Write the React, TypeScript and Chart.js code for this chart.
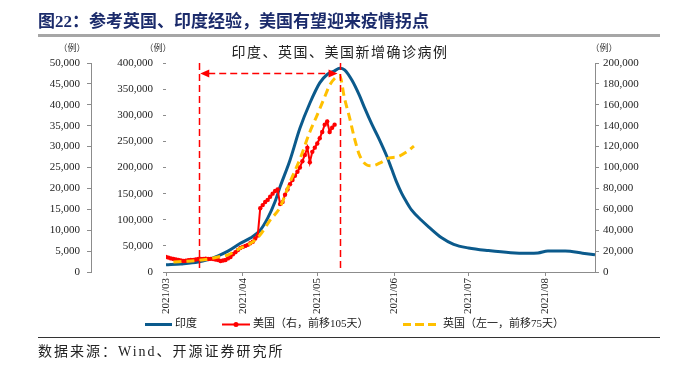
import React, { useEffect, useRef } from 'react';
import { Chart, registerables } from 'chart.js';

Chart.register(...registerables);

// ---- Data (x = days since 2021-03-01) ----
const monthTickDays = [0, 31, 61, 92, 122, 153];
const monthTickLabels = ['2021/03', '2021/04', '2021/05', '2021/06', '2021/07', '2021/08'];
const xMaxDay = 173;

// India daily new cases (left inner axis, 0-400,000)
const indiaDays = [0, 6, 13, 17, 21, 25, 30, 34, 38, 41, 44, 46, 50, 54, 58, 62, 65, 68, 70, 72, 75, 78, 80, 83, 86, 89, 91, 93, 95, 97, 99, 103, 106, 111, 116, 122, 130, 139, 146, 150, 154, 161, 168, 173];
const indiaCases = [14000, 15500, 19000, 24000, 31000, 40000, 55000, 65000, 80000, 103000, 135000, 163000, 214000, 275000, 323000, 362000, 378000, 385000, 390000, 387000, 367000, 338000, 315000, 283000, 254000, 222000, 197000, 172000, 151000, 134000, 119000, 99000, 86000, 66000, 53000, 46000, 41000, 37000, 36000, 36500, 40000, 40000, 36000, 33000];

// US daily new cases, shifted forward 105 days (right axis, 0-200,000)
const usDays = Array.from({ length: 69 }, (_, i) => i);
const usCases = [14400, 13800, 13000, 12400, 12000, 11500, 11000, 10500, 10800, 11200, 11500, 11500, 12000, 12400, 12600, 12400, 12800, 12400, 12600, 12400, 12000, 11500, 10500, 11000, 11500, 13000, 14400, 17000, 19000, 21000, 23000, 24000, 25000, 26000, 27500, 29000, 32000, 35000, 61000, 64000, 67000, 69000, 72000, 75000, 77500, 79000, 65000, 67000, 74000, 79000, 84000, 88000, 92000, 96000, 100000, 106000, 112000, 119000, 105000, 115000, 119000, 123000, 128000, 134000, 141000, 144000, 134000, 138000, 141000];

// UK daily new cases, shifted forward 75 days (left outer axis, 0-50,000)
const ukDays = [3, 9, 13, 17, 21, 25, 30, 35, 38, 42, 46, 50, 54, 58, 61, 64, 66, 68, 70, 72, 74, 76, 78, 81, 83, 87, 90, 93, 97, 100];
const ukCases = [2400, 2600, 2800, 3100, 3600, 4100, 5700, 7200, 8900, 12400, 15500, 21500, 27000, 33500, 37600, 41900, 44700, 46300, 47000, 41500, 37000, 32000, 28000, 25600, 25400, 26300, 27300, 27500, 28700, 30100];

// Annotation: India peak vs. start (days) and arrow level on India axis
const markerDays = [13.4, 70];
const arrowLevel = 381000;

const seriesNames = ['印度', '美国（右，前移105天）', '英国（左一，前移75天）'];
const chartTitle = '印度、英国、美国新增确诊病例';
const unitLabel = '（例）';

const BLUE = '#0b5a8c';
const RED = '#ff0000';
const YELLOW = '#ffc000';
const AXIS = '#8c8c8c';
const SERIF = "'Liberation Serif', 'Times New Roman', 'Noto Sans CJK SC', serif";
const MIXED = "'Liberation Serif', 'Noto Sans CJK SC', serif";

const fmt = (v: any) => Number(v).toLocaleString('en-US');

const overlayPlugin = {
  id: 'overlay',
  afterDatasetsDraw(chart: any) {
    const { ctx, chartArea, scales } = chart;
    const xs = scales.x;
    const yIN = scales.yIN;
    ctx.save();
    ctx.strokeStyle = RED;
    ctx.lineWidth = 1.5;
    ctx.setLineDash([7, 4]);
    markerDays.forEach((d) => {
      const px = Math.round(xs.getPixelForValue(d)) + 0.5;
      ctx.beginPath();
      ctx.moveTo(px, chartArea.top);
      ctx.lineTo(px, chartArea.bottom - 2);
      ctx.stroke();
    });
    const y = Math.round(yIN.getPixelForValue(arrowLevel)) + 0.5;
    const x1 = xs.getPixelForValue(markerDays[0]) + 1;
    const x2 = xs.getPixelForValue(markerDays[1]) - 2;
    ctx.beginPath();
    ctx.moveTo(x1 + 8, y);
    ctx.lineTo(x2 - 8, y);
    ctx.stroke();
    ctx.setLineDash([]);
    ctx.fillStyle = RED;
    ctx.beginPath();
    ctx.moveTo(x1, y);
    ctx.lineTo(x1 + 9, y - 4);
    ctx.lineTo(x1 + 9, y + 4);
    ctx.closePath();
    ctx.fill();
    ctx.beginPath();
    ctx.moveTo(x2, y);
    ctx.lineTo(x2 - 9, y - 4);
    ctx.lineTo(x2 - 9, y + 4);
    ctx.closePath();
    ctx.fill();
    ctx.restore();
  },
  afterDraw(chart: any) {
    const { ctx, scales } = chart;
    ctx.save();
    // inner title
    ctx.fillStyle = '#222';
    ctx.font = `14px 'Noto Sans CJK SC'`;
    (ctx as any).letterSpacing = '1.5px';
    ctx.textAlign = 'center';
    ctx.textBaseline = 'middle';
    ctx.fillText(chartTitle, 340, 52);
    // unit labels
    (ctx as any).letterSpacing = '0px';
    ctx.font = `9px 'Noto Sans CJK SC'`;
    ctx.fillStyle = '#333';
    ctx.fillText(unitLabel, scales.yUK.right - 19, 48);
    ctx.fillText(unitLabel, scales.yIN.right - 8, 48);
    ctx.fillText(unitLabel, scales.yUS.left + 9, 48);
    // legend
    const ly = 324.5;
    ctx.lineWidth = 3;
    ctx.strokeStyle = BLUE;
    ctx.beginPath();
    ctx.moveTo(145, ly);
    ctx.lineTo(172, ly);
    ctx.stroke();
    ctx.strokeStyle = RED;
    ctx.lineWidth = 2;
    ctx.beginPath();
    ctx.moveTo(222, ly);
    ctx.lineTo(250, ly);
    ctx.stroke();
    ctx.fillStyle = RED;
    ctx.beginPath();
    ctx.arc(236, ly, 2.5, 0, Math.PI * 2);
    ctx.fill();
    ctx.strokeStyle = YELLOW;
    ctx.lineWidth = 3;
    [[403, 411], [415, 424], [428, 436]].forEach(([a, b]) => {
      ctx.beginPath();
      ctx.moveTo(a, ly);
      ctx.lineTo(b, ly);
      ctx.stroke();
    });
    ctx.fillStyle = '#222';
    ctx.font = `11px ${MIXED}`;
    ctx.textAlign = 'left';
    ctx.fillText(seriesNames[0], 175, ly);
    ctx.fillText(seriesNames[1], 253, ly);
    ctx.fillText(seriesNames[2], 443, ly);
    ctx.restore();
  },
};

export default function App() {
  const canvasRef = useRef<HTMLCanvasElement | null>(null);

  useEffect(() => {
    if (!canvasRef.current) return;
    const tickFont = { family: SERIF, size: 11 };
    const chart = new Chart(canvasRef.current, {
      type: 'line',
      data: {
        datasets: [
          {
            label: seriesNames[0],
            data: indiaDays.map((d, i) => ({ x: d, y: indiaCases[i] })),
            yAxisID: 'yIN',
            borderColor: BLUE,
            borderWidth: 3,
            pointRadius: 0,
            cubicInterpolationMode: 'monotone',
            order: 3,
          },
          {
            label: seriesNames[1],
            data: usDays.map((d, i) => ({ x: d, y: usCases[i] })),
            yAxisID: 'yUS',
            borderColor: RED,
            backgroundColor: RED,
            borderWidth: 2,
            pointRadius: 2.2,
            pointBorderWidth: 0,
            pointBackgroundColor: RED,
            tension: 0,
            order: 2,
          },
          {
            label: seriesNames[2],
            data: ukDays.map((d, i) => ({ x: d, y: ukCases[i] })),
            yAxisID: 'yUK',
            borderColor: YELLOW,
            borderWidth: 3,
            borderDash: [8, 5],
            pointRadius: 0,
            cubicInterpolationMode: 'monotone',
            order: 1,
          },
        ],
      } as any,
      options: {
        animation: false,
        responsive: false,
        devicePixelRatio: 1,
        layout: { padding: { top: 63, left: 0, right: 0, bottom: 0 } },
        plugins: { legend: { display: false }, title: { display: false }, tooltip: { enabled: false } },
        scales: {
          x: {
            type: 'linear',
            min: 0,
            max: xMaxDay,
            afterBuildTicks: (s: any) => {
              s.ticks = monthTickDays.map((v) => ({ value: v }));
            },
            afterFit: (s: any) => {
              s.height = 93;
            },
            ticks: {
              autoSkip: false,
              minRotation: 90,
              maxRotation: 90,
              padding: 2,
              font: tickFont,
              color: '#222',
              callback: (_v: any, i: number) => monthTickLabels[i],
            },
            grid: { drawOnChartArea: false, drawTicks: true, tickLength: 4, color: AXIS },
            border: { color: AXIS, width: 1 },
          },
          yUK: {
            type: 'linear',
            position: 'left',
            weight: 1,
            min: 0,
            max: 50000,
            afterFit: (s: any) => {
              s.width = 91;
            },
            ticks: { stepSize: 5000, padding: 7, font: tickFont, color: '#222', callback: fmt },
            grid: { drawOnChartArea: false, drawTicks: true, tickLength: 4, color: AXIS },
            border: { color: AXIS, width: 1 },
          },
          yIN: {
            type: 'linear',
            position: 'left',
            weight: 0,
            min: 0,
            max: 400000,
            afterFit: (s: any) => {
              s.width = 75;
            },
            ticks: { stepSize: 50000, padding: 10, font: tickFont, color: '#222', callback: fmt },
            grid: { drawOnChartArea: false, drawTicks: true, tickLength: 3, color: AXIS },
            border: { display: false },
          },
          yUS: {
            type: 'linear',
            position: 'right',
            min: 0,
            max: 200000,
            afterFit: (s: any) => {
              s.width = 78;
            },
            ticks: { stepSize: 20000, padding: 4, font: tickFont, color: '#222', callback: fmt },
            grid: { drawOnChartArea: false, drawTicks: true, tickLength: 4, color: AXIS },
            border: { color: AXIS, width: 1 },
          },
        },
      } as any,
      plugins: [overlayPlugin],
    });
    return () => chart.destroy();
  }, []);

  return (
    <div style={{ position: 'absolute', left: 0, top: 0, width: 673, height: 365, background: '#fff', overflow: 'hidden' }}>
      <canvas ref={canvasRef} width={673} height={365} style={{ position: 'absolute', left: 0, top: 0, width: 673, height: 365 }} />
      <div
        style={{
          position: 'absolute',
          left: 38,
          top: 11,
          fontFamily: "'Liberation Serif', 'Noto Sans CJK SC', serif",
          fontWeight: 700,
          fontSize: 17,
          lineHeight: '22px',
          color: '#1b2b6b',
          whiteSpace: 'nowrap',
        }}
      >
        图22：参考英国、印度经验，美国有望迎来疫情拐点
      </div>
      <div style={{ position: 'absolute', left: 38, top: 34, width: 622, height: 3, background: '#a6a6a6' }} />
      <div style={{ position: 'absolute', left: 38, top: 337, width: 622, height: 1, background: '#333' }} />
      <div
        style={{
          position: 'absolute',
          left: 38,
          top: 343,
          fontFamily: "'Liberation Serif', 'Noto Sans CJK SC', serif",
          fontSize: 14,
          lineHeight: '18px',
          letterSpacing: '2px',
          color: '#222',
          whiteSpace: 'nowrap',
        }}
      >
        数据来源：Wind、开源证券研究所
      </div>
    </div>
  );
}
